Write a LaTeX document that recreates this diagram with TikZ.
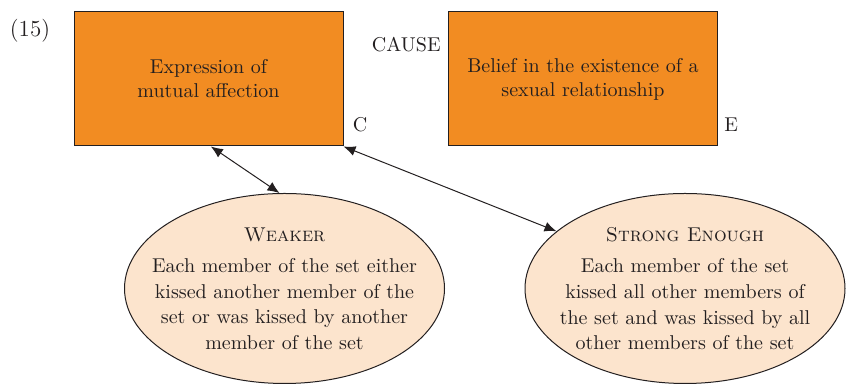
\documentclass[tikz,border=0pt]{standalone}
\usepackage{xcolor}
\usepackage{tikz}
\usetikzlibrary{positioning,shapes.geometric,arrows.meta}
\definecolor{boxorange}{RGB}{242,140,34}
\definecolor{bubblefill}{RGB}{252,228,205}
\definecolor{inkgray}{RGB}{35,31,32}

\begin{document}
\begin{tikzpicture}[x=0.5pt,y=0.5pt,>={Latex[length=6pt,width=5pt]},
    every node/.style={text=inkgray},
    eventbox/.style={draw=inkgray, fill=boxorange, line width=0.5pt,
        minimum width=134.5pt, minimum height=67pt, align=center,
        font=\fontsize{10}{12}\selectfont},
    bubble/.style={ellipse, draw=inkgray, fill=bubblefill, line width=0.5pt,
        minimum width=160pt, minimum height=95pt},
    bubbletext/.style={align=center, font=\fontsize{10}{12.8}\selectfont},
    letter/.style={inner sep=0pt, font=\fontsize{10}{12}\selectfont}]
    \useasboundingbox (0,0) rectangle (846,384);

    % Number
    \node[font=\fontsize{11.5}{13}\selectfont] (num) at (30,353) {(15)};

    % Cause and effect
    \node[eventbox] (expr) at (208.5,305) {Expression of\\mutual affection};
    \node[eventbox] (belief) at (583,305) {Belief in the existence of a\\sexual relationship};
    \node[letter, anchor=east] (cause) at (441,339) {CAUSE};
    \node[letter, anchor=west] (clabel) at ([shift={(9,22)}]expr.south east) {C};
    \node[letter, anchor=west] (elabel) at ([shift={(6,22)}]belief.south east) {E};

    % Descriptions
    \node[bubble] (weak) at (284.5,95.5) {};
    \node[bubbletext] (weaktxt) at (weak) {\textsc{Weaker}\\[3pt]Each member of the set either\\kissed another member of the\\set or was kissed by another\\member of the set};
    \node[bubble] (strong) at (685,95.5) {};
    \node[bubbletext] (strongtxt) at (strong) {\textsc{Strong Enough}\\[3pt]Each member of the set\\kissed all other members of\\the set and was kissed by all\\other members of the set};

    % Links
    \draw[<->, draw=inkgray, line width=0.5pt] (expr.-88) -- (weak.93);
    \draw[<->, draw=inkgray, line width=0.5pt] (expr.south east) -- (strong.156);
\end{tikzpicture}
\end{document}
